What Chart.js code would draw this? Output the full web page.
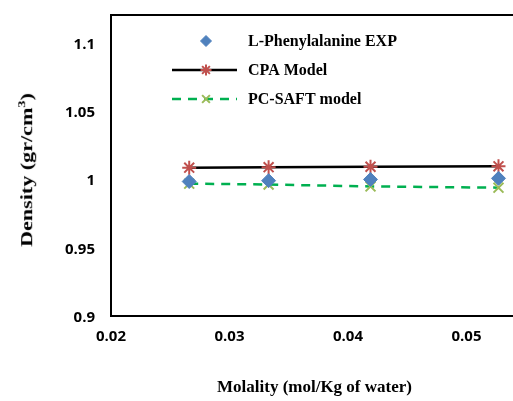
<!DOCTYPE html>
<html>
<head>
<meta charset="utf-8">
<script src="https://cdn.jsdelivr.net/npm/chart.js@4"></script>
<style>
  html, body { margin: 0; padding: 0; background: #fff; overflow: hidden; }
  #wrap { position: relative; width: 513px; height: 401px; overflow: hidden; }
  #wrap canvas { position: absolute; left: 0; top: 0; }
  .ttl { position: absolute; font-family: "Liberation Serif", "Times New Roman", serif; font-weight: bold; font-size: 17px; color: #000; white-space: nowrap; }
  #xt { left: 217px; top: 377px; }
  #yt { left: 26px; top: 170px; transform: translate(-50%, -50%) rotate(-90deg) scale(1.3, 1); }
</style>
</head>
<body>
<div id="wrap">
  <canvas id="c" width="620" height="401"></canvas>
  <div id="xt" class="ttl">Molality (mol/Kg of water)</div>
  <div id="yt" class="ttl">Density (gr/cm<sup style="font-size:11px">3</sup>)</div>
</div>
<script>
// molality values (mol/Kg of water)
const molality = [0.0266, 0.0333, 0.0419, 0.0527];

// densities (gr/cm3)
const expDensity = [0.9983, 0.9989, 0.9998, 1.0006];
const cpaDensity = [1.0084, 1.0088, 1.0091, 1.0094];
const pcsaftDensity = [0.9967, 0.9961, 0.9947, 0.9938];

const seriesNames = ["L-Phenylalanine EXP", "CPA Model", "PC-SAFT model"];

const xTicks = [0.02, 0.03, 0.04, 0.05, 0.06];
const yTicks = [0.9, 0.95, 1, 1.05, 1.1];

const pts = arr => arr.map((v, i) => ({ x: molality[i], y: v }));

// legend drawn inside the plot + plot border
const extras = {
  id: "extras",
  afterDraw(chart) {
    const ctx = chart.ctx;
    const a = chart.chartArea;
    ctx.save();
    ctx.strokeStyle = "#000";
    ctx.lineWidth = 2;
    ctx.strokeRect(a.left, a.top, a.right - a.left, a.bottom - a.top);

    const rows = [41, 70, 99];
    const lx1 = 172, lx2 = 237, mx = 206, tx = 248;
    ctx.font = "bold 16px 'Liberation Serif', 'Times New Roman', serif";
    ctx.textBaseline = "middle";
    chart.data.datasets.forEach((ds, i) => {
      const y = rows[i];
      if (ds.showLine !== false) {
        ctx.beginPath();
        ctx.strokeStyle = ds.borderColor;
        ctx.lineWidth = ds.borderWidth;
        ctx.setLineDash(ds.borderDash || []);
        ctx.moveTo(lx1, y);
        ctx.lineTo(lx2, y);
        ctx.stroke();
        ctx.setLineDash([]);
      }
      ctx.fillStyle = ds.pointBackgroundColor;
      ctx.strokeStyle = ds.pointBorderColor;
      ctx.lineWidth = ds.pointBorderWidth;
      Chart.helpers.drawPoint(ctx, {
        pointStyle: ds.pointStyle,
        radius: ds.pointRadius - 1.5,
        borderWidth: ds.pointBorderWidth,
        rotation: 0
      }, mx, y);
      ctx.fillStyle = "#000";
      ctx.fillText(seriesNames[i], tx, y + 1);
    });
    ctx.restore();
  }
};

new Chart(document.getElementById("c"), {
  type: "scatter",
  data: {
    datasets: [
      {
        label: seriesNames[0],
        data: pts(expDensity),
        showLine: false,
        pointStyle: "rectRot",
        pointRadius: 7,
        pointBorderWidth: 1,
        pointBackgroundColor: "#4F81BD",
        pointBorderColor: "#4F81BD",
        order: 0
      },
      {
        label: seriesNames[1],
        data: pts(cpaDensity),
        showLine: true,
        borderColor: "#000",
        borderWidth: 2.5,
        pointStyle: "star",
        pointRadius: 7,
        pointBorderWidth: 2,
        pointBackgroundColor: "#C0504D",
        pointBorderColor: "#C0504D",
        order: 1
      },
      {
        label: seriesNames[2],
        data: pts(pcsaftDensity),
        showLine: true,
        borderColor: "#00B050",
        borderWidth: 2.5,
        borderDash: [9, 7],
        pointStyle: "crossRot",
        pointRadius: 7,
        pointBorderWidth: 2,
        pointBackgroundColor: "#9BBB59",
        pointBorderColor: "#9BBB59",
        order: 2
      }
    ]
  },
  options: {
    responsive: false,
    animation: false,
    layout: { padding: { top: 15, right: 35, left: 0, bottom: 0 } },
    plugins: { legend: { display: false }, tooltip: { enabled: false } },
    scales: {
      x: {
        type: "linear",
        min: 0.02,
        max: 0.06,
        grid: { display: false, drawTicks: false },
        border: { display: false },
        afterBuildTicks: s => { s.ticks = xTicks.map(v => ({ value: v })); },
        afterFit: s => { s.height = 85; s.paddingLeft = 0; s.paddingRight = 0; },
        ticks: {
          padding: 12,
          color: "#000",
          font: { family: "'Open Sans', sans-serif", weight: "bold", size: 15 },
          callback: v => String(v)
        }
      },
      y: {
        min: 0.9,
        max: 1.12,
        grid: { display: false, drawTicks: false },
        border: { display: false },
        afterBuildTicks: s => { s.ticks = yTicks.map(v => ({ value: v })); },
        afterFit: s => { s.width = 111; s.paddingTop = 0; s.paddingBottom = 0; },
        ticks: {
          padding: 16,
          labelOffset: 2,
          color: "#000",
          font: { family: "'Open Sans', sans-serif", weight: "bold", size: 15 },
          callback: v => String(v)
        }
      }
    }
  },
  plugins: [extras]
});
</script>
</body>
</html>
